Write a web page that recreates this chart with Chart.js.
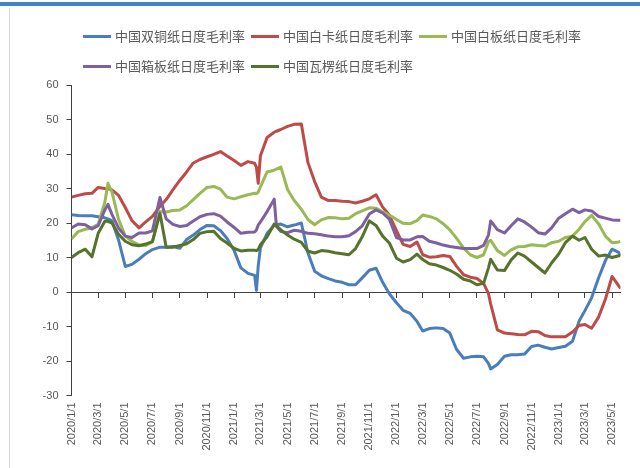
<!DOCTYPE html>
<html>
<head>
<meta charset="utf-8">
<script src="https://cdn.jsdelivr.net/npm/chart.js@4.4.0/dist/chart.umd.min.js"></script>
<style>
  html, body { margin: 0; padding: 0; background: #fff; }
  #wrap { position: relative; width: 640px; height: 468px; overflow: hidden; }
  #wrap canvas { position: absolute; left: 0; top: 0; }
  #topbar { position: absolute; left: 0; top: 2px; width: 640px; height: 4px; background: #3f86c8; }
  #leftline { position: absolute; left: 9px; top: 8px; width: 1px; height: 460px; background: #d9d9d9; }
</style>
</head>
<body>
<div id="wrap">
  <canvas id="marginChart" width="640" height="468"></canvas>
  <div id="topbar"></div>
  <div id="leftline"></div>
</div>
<script>
const dates = [
    '2020-01-01', '2020-01-16', '2020-02-01', '2020-02-16', '2020-03-01', '2020-03-16', '2020-03-23', '2020-04-01', '2020-04-16', '2020-05-01',
    '2020-05-16', '2020-06-01', '2020-06-16', '2020-07-01', '2020-07-18', '2020-08-01', '2020-08-16', '2020-09-01', '2020-09-16', '2020-10-01',
    '2020-10-16', '2020-11-01', '2020-11-16', '2020-12-01', '2020-12-16', '2021-01-01', '2021-01-16', '2021-02-01', '2021-02-16', '2021-02-20',
    '2021-02-24', '2021-03-01', '2021-03-16', '2021-04-01', '2021-04-06', '2021-04-16', '2021-05-01', '2021-05-16', '2021-06-01', '2021-06-16',
    '2021-07-01', '2021-07-16', '2021-08-01', '2021-08-16', '2021-09-01', '2021-09-16', '2021-10-01', '2021-10-16', '2021-11-01', '2021-11-16',
    '2021-12-01', '2021-12-16', '2022-01-01', '2022-01-16', '2022-02-01', '2022-02-16', '2022-03-01', '2022-03-16', '2022-04-01', '2022-04-16',
    '2022-05-01', '2022-05-16', '2022-06-01', '2022-06-16', '2022-07-01', '2022-07-16', '2022-07-27', '2022-08-01', '2022-08-16', '2022-09-01',
    '2022-09-16', '2022-10-01', '2022-10-16', '2022-11-01', '2022-11-16', '2022-12-01', '2022-12-16', '2023-01-01', '2023-01-16', '2023-02-01',
    '2023-02-16', '2023-03-01', '2023-03-16', '2023-04-01', '2023-04-16', '2023-05-01', '2023-05-16', '2023-05-20'
];

// 中国双铜纸日度毛利率
const doubleCoated = [
    22.4, 22.2, 22.1, 22.1, 21.8, 21.5, 21.2, 20.6, 15.0, 7.4,
    8.0, 9.5, 11.1, 12.3, 13.0, 13.0, 13.2, 12.7, 15.2, 16.5,
    18.1, 19.3, 19.2, 17.8, 15.5, 12.0, 7.0, 5.4, 4.8, 0.5,
    7.5, 12.8, 17.0, 19.3, 19.5, 19.7, 18.9, 19.4, 20.0, 11.3,
    6.0, 4.7, 3.9, 3.2, 2.8, 2.1, 2.1, 4.1, 6.3, 6.9,
    2.8, -0.5, -3.1, -5.3, -6.2, -8.5, -11.3, -10.6, -10.4, -10.6,
    -11.9, -16.6, -19.2, -18.8, -18.6, -18.8, -20.7, -22.3, -21.0, -18.6,
    -18.2, -18.2, -18.0, -15.8, -15.4, -16.0, -16.5, -16.1, -15.7, -14.3,
    -8.4, -5.4, -1.7, 4.2, 9.1, 12.4, 11.5, 10.5
];

// 中国白卡纸日度毛利率
const whiteCard = [
    27.5, 28.0, 28.5, 28.6, 30.3, 30.0, 29.9, 29.6, 28.0, 24.5,
    20.7, 18.6, 20.3, 21.9, 24.8, 26.8, 29.6, 32.4, 34.8, 37.4,
    38.4, 39.2, 39.9, 40.7, 39.4, 38.1, 36.7, 37.8, 37.3, 36.2,
    31.5, 39.5, 44.8, 46.3, 46.6, 47.1, 48.0, 48.6, 48.7, 37.5,
    32.0, 27.5, 26.5, 26.5, 26.3, 26.2, 25.8, 26.3, 27.0, 28.2,
    24.6, 22.3, 17.8, 13.8, 13.2, 14.5, 10.8, 10.1, 10.2, 10.6,
    10.3, 7.5, 5.0, 4.3, 3.9, 2.5, -0.5, -3.5, -11.0, -11.9,
    -12.1, -12.3, -12.4, -11.4, -11.5, -12.6, -13.0, -13.0, -13.0, -11.6,
    -9.7, -9.4, -10.5, -7.2, -2.1, 4.5, 1.8, 1.0
];

// 中国白板纸日度毛利率
const whiteBoard = [
    15.4, 17.5, 18.2, 18.6, 19.6, 26.0, 31.5, 29.0, 21.0, 16.2,
    14.7, 13.6, 13.5, 14.5, 23.3, 23.2, 23.6, 23.8, 25.0, 26.8,
    28.6, 30.3, 30.6, 29.8, 27.5, 27.0, 27.6, 28.2, 28.6, 28.5,
    28.9, 30.5, 34.8, 35.3, 35.6, 36.2, 29.7, 26.5, 24.0, 21.0,
    19.5, 20.9, 21.6, 21.5, 21.2, 21.4, 22.7, 23.5, 24.4, 24.3,
    23.2, 22.3, 21.0, 19.9, 19.8, 20.7, 22.3, 21.9, 21.2, 19.8,
    18.0, 15.6, 12.7, 10.8, 10.0, 10.8, 14.6, 15.0, 12.0, 10.6,
    12.2, 13.1, 13.2, 13.7, 13.5, 13.3, 14.3, 14.7, 15.8, 16.2,
    18.2, 20.4, 22.2, 19.7, 16.2, 14.3, 14.5, 14.7
];

// 中国箱板纸日度毛利率
const boxBoard = [
    18.6, 19.7, 19.5, 18.3, 19.2, 23.8, 25.4, 22.5, 18.5, 16.2,
    15.8, 17.1, 17.1, 17.7, 27.4, 21.2, 19.6, 19.0, 19.3, 20.6,
    21.8, 22.5, 22.7, 22.0, 20.3, 18.7, 17.0, 17.3, 17.4, 18.0,
    19.4, 20.3, 23.3, 26.9, 19.0, 17.5, 17.2, 17.9, 17.6, 17.0,
    16.9, 16.6, 16.2, 16.0, 16.0, 16.3, 17.5, 19.2, 22.6, 23.8,
    22.9, 21.1, 15.8, 15.1, 15.1, 16.0, 16.1, 14.7, 14.2, 13.6,
    13.2, 12.9, 12.6, 12.6, 12.6, 13.5, 16.5, 20.6, 18.1, 17.1,
    19.2, 21.2, 20.3, 18.8, 17.2, 16.8, 18.6, 21.4, 22.7, 24.0,
    23.0, 23.8, 23.5, 21.9, 21.4, 20.9, 20.8, 20.8
];

// 中国瓦楞纸日度毛利率
const corrugated = [
    10.0, 11.4, 12.4, 10.2, 17.0, 20.5, 20.5, 20.0, 16.7, 14.7,
    13.7, 13.4, 13.9, 14.6, 22.8, 13.0, 13.0, 13.5, 14.0, 15.2,
    17.0, 17.5, 17.6, 15.5, 14.2, 12.6, 11.9, 12.1, 12.1, 12.0,
    12.3, 13.7, 16.0, 19.7, 19.2, 18.0, 16.5, 15.3, 14.4, 11.8,
    11.3, 12.0, 11.8, 11.4, 11.1, 10.8, 12.6, 16.0, 20.6, 19.3,
    16.2, 14.2, 9.8, 8.7, 9.4, 11.0, 9.4, 8.2, 7.8, 7.1,
    6.3, 5.2, 3.7, 3.2, 2.1, 2.5, 7.0, 9.5, 6.4, 6.2,
    9.3, 11.3, 10.4, 8.7, 7.1, 5.5, 8.4, 11.0, 14.3, 16.2,
    15.0, 15.8, 12.4, 10.4, 10.7, 10.0, 10.5, 10.5
];

const seriesNames = ['中国双铜纸日度毛利率', '中国白卡纸日度毛利率', '中国白板纸日度毛利率', '中国箱板纸日度毛利率', '中国瓦楞纸日度毛利率'];
const tickLabels = [
    '2020/1/1', '2020/3/1', '2020/5/1', '2020/7/1', '2020/9/1', '2020/11/1',
    '2021/1/1', '2021/3/1', '2021/5/1', '2021/7/1', '2021/9/1', '2021/11/1',
    '2022/1/1', '2022/3/1', '2022/5/1', '2022/7/1', '2022/9/1', '2022/11/1',
    '2023/1/1', '2023/3/1', '2023/5/1'
];

const colors = ['#4a7ebb', '#be4b48', '#98b954', '#7d60a0', '#56732b'];
const textColor = '#595959';
const axisColor = '#404040';
const numFont = { family: '"Liberation Sans", Arial, sans-serif', size: 11 };
const cjkFont = { family: '"Noto Sans CJK SC", sans-serif', size: 13 };

// days since 2020-01-01, used as the linear x value
function dayIndex(s) {
    const p = s.split(/[-\/]/).map(Number);
    return Math.round((Date.UTC(p[0], p[1] - 1, p[2]) - Date.UTC(2020, 0, 1)) / 86400000);
}

const xMax = dayIndex(dates[dates.length - 1]);
const tickValues = tickLabels.map(dayIndex);
const setTicks = scale => { scale.ticks = tickValues.map(v => ({ value: v })); };

const series = [doubleCoated, whiteCard, whiteBoard, boxBoard, corrugated];

// legend markers drawn as short thick lines in the legend's own hit boxes
const legendLines = {
    id: 'legendLines',
    afterLayout(chart) {
        const lg = chart.legend;
        lg.left += 5.5; lg.right += 5.5;
        lg.top += 3.5; lg.bottom += 3.5;
    },
    afterDraw(chart) {
        const lg = chart.legend;
        const ctx = chart.ctx;
        lg.legendItems.forEach((item, i) => {
            const hb = lg.legendHitBoxes[i];
            const y = hb.top + hb.height / 2;
            ctx.save();
            ctx.strokeStyle = chart.data.datasets[item.datasetIndex].borderColor;
            ctx.lineWidth = 3;
            ctx.beginPath();
            ctx.moveTo(hb.left, y);
            ctx.lineTo(hb.left + 28, y);
            ctx.stroke();
            ctx.restore();
        });
    }
};

const ctx = document.getElementById('marginChart').getContext('2d');
const marginChart = new Chart(ctx, {
    type: 'line',
    data: {
        datasets: series.map((values, k) => ({
            label: seriesNames[k],
            data: dates.map((d, i) => ({ x: dayIndex(d), y: values[i] })),
            borderColor: colors[k],
            backgroundColor: colors[k],
            borderWidth: 3,
            pointRadius: 0,
            fill: false,
            tension: 0,
            borderJoinStyle: 'round',
            order: series.length - 1 - k
        }))
    },
    options: {
        responsive: false,
        animation: false,
        events: [],
        layout: { padding: { top: 15, right: 19.5, bottom: 0, left: 0 } },
        plugins: {
            tooltip: { enabled: false },
            legend: {
                position: 'top',
                align: 'start',
                fullSize: false,
                labels: {
                    boxWidth: 25.5,
                    boxHeight: 24,
                    padding: 6,
                    color: textColor,
                    font: cjkFont,
                    sort: (a, b) => a.datasetIndex - b.datasetIndex,
                    generateLabels: chart => Chart.defaults.plugins.legend.labels.generateLabels(chart).map(l =>
                        Object.assign(l, { fillStyle: 'rgba(0,0,0,0)', strokeStyle: 'rgba(0,0,0,0)', lineWidth: 0 }))
                }
            }
        },
        scales: {
            x: {
                type: 'linear',
                position: { y: 0 },
                min: 0,
                max: xMax,
                afterBuildTicks: setTicks,
                ticks: { display: false },
                grid: { drawOnChartArea: false, drawTicks: true, tickLength: 5, color: axisColor },
                border: { display: true, color: axisColor, width: 1 }
            },
            x2: {
                type: 'linear',
                position: 'bottom',
                min: 0,
                max: xMax,
                afterBuildTicks: setTicks,
                afterFit: scale => { scale.height = 72.5; },
                grid: { display: false, drawTicks: false },
                border: { display: false },
                ticks: {
                    autoSkip: false,
                    minRotation: 90,
                    maxRotation: 90,
                    padding: 7,
                    color: textColor,
                    font: numFont,
                    callback: value => tickLabels[tickValues.indexOf(value)] || ''
                }
            },
            y: {
                min: -30,
                max: 60,
                afterFit: scale => { scale.width = 71.5; },
                ticks: { stepSize: 10, padding: 8, color: textColor, font: numFont },
                grid: { drawOnChartArea: false, drawTicks: true, tickLength: 5, color: axisColor },
                border: { display: true, color: axisColor, width: 1 }
            }
        }
    },
    plugins: [legendLines]
});
</script>
</body>
</html>
